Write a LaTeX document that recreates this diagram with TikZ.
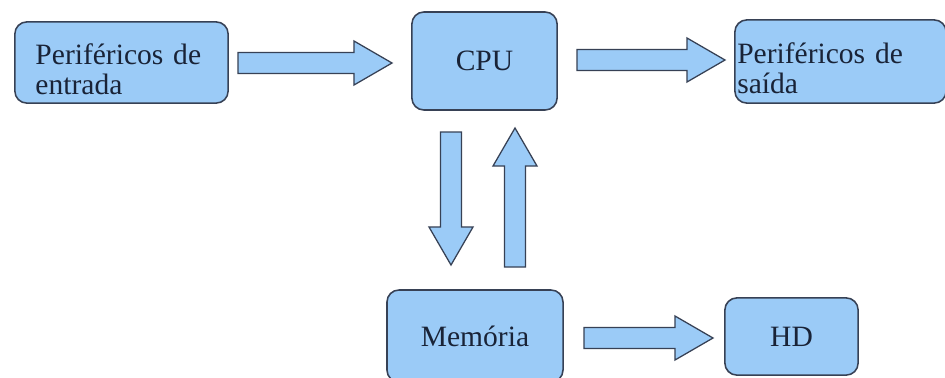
\documentclass[tikz,border=0pt]{standalone}
\usepackage{fontspec}
\setmainfont{Liberation Serif}
\usetikzlibrary{calc}
\definecolor{boxfill}{RGB}{155,203,247}
\definecolor{boxline}{RGB}{55,65,85}
\definecolor{boxtext}{RGB}{25,35,55}
\tikzset{
  box/.style={draw=boxline,fill=boxfill,line width=1.1pt,rounded corners=0.3cm,
    text=boxtext,font=\fontsize{21}{21.5}\selectfont,inner sep=0pt},
  fat/.style={draw=boxline,fill=boxfill,line width=0.9pt,line join=miter}
}
% block arrow from #1 to #2 (tip at #2)
\newcommand\fatarrow[2]{%
  \coordinate (hb) at ($(#2)!0.95cm!(#1)$);
  \draw[fat] ($(#1)!0.26cm!90:(#2)$) -- ($(hb)!0.26cm!90:(#2)$) -- ($(hb)!0.55cm!90:(#2)$)
    -- (#2) -- ($(hb)!0.55cm!-90:(#2)$) -- ($(hb)!0.26cm!-90:(#2)$) -- ($(#1)!0.26cm!-90:(#2)$) -- cycle;}
\newcommand\tallline{\rule{0pt}{0.85cm}}
\begin{document}
\begin{tikzpicture}[x=0.025cm,y=-0.025cm]
\clip (0,0) rectangle (945,377);
\fill[white] (0,0) rectangle (945,377);
\node[box,minimum width=5.33cm,minimum height=2.03cm,text width=4.3cm,align=left] (in) at (121.5,62.5) {\tallline Periféricos de\\entrada};
\node[box,minimum width=3.63cm,minimum height=2.45cm] (cpu) at (484.5,61) {CPU};
\node[box,minimum width=5.28cm,minimum height=2.08cm,text width=5.16cm,align=left] (out) at (840.5,61.5) {\tallline Periféricos de\\saída};
\node[box,minimum width=4.4cm,minimum height=2.3cm] (mem) at (475,336) {Memória};
\node[box,minimum width=3.33cm,minimum height=1.93cm] (hd) at (791.5,336.5) {HD};
% arrow ends
\coordinate (in-s) at (238,63);  \coordinate (cpu-e) at (392,63);
\coordinate (cpu-s) at (577,60); \coordinate (out-e) at (725,60);
\coordinate (dn-s) at (451,132); \coordinate (mem-e) at (451,265);
\coordinate (up-s) at (515,267); \coordinate (cpu-b) at (515,128);
\coordinate (mem-s) at (584,338); \coordinate (hd-e) at (713,338);
\fatarrow{in-s}{cpu-e}
\fatarrow{cpu-s}{out-e}
\fatarrow{dn-s}{mem-e}
\fatarrow{up-s}{cpu-b}
\fatarrow{mem-s}{hd-e}
\end{tikzpicture}
\end{document}
